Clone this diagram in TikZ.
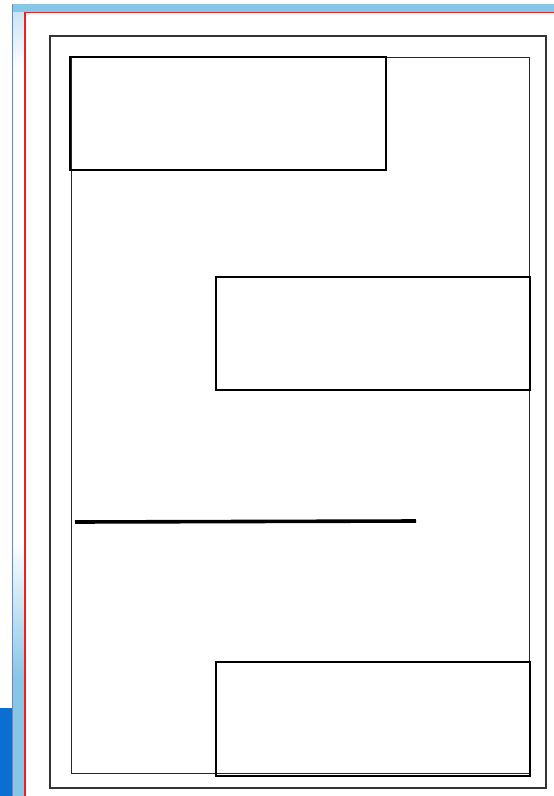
\documentclass[tikz,border=0pt]{standalone}
\usepackage{tikz}
\definecolor{winblue}{HTML}{0A6FD0}
\definecolor{barblue}{HTML}{86C6E6}
\definecolor{edgeblue}{HTML}{6A88B8}
\definecolor{pagered}{HTML}{F02020}
\tikzset{
  frame/.style={draw=black!80,line width=1.2pt},
  inframe/.style={draw=black!85,line width=1pt},
  panel/.style={draw=black,line width=2.4pt},
  rulebar/.style={draw=black,line width=3.6pt}
}

\begin{document}
\begin{tikzpicture}[x=1pt,y=-1pt]
\useasboundingbox (0,0) rectangle (554,796);
\fill[white] (0,0) rectangle (554,796);
% window chrome
\fill[barblue] (12,4) rectangle (554,12);
\shade[top color=barblue!45,bottom color=white] (13,12) rectangle (25,70);
\shade[top color=white,bottom color=barblue] (13,540) rectangle (25,680);
\fill[barblue] (13,680) rectangle (25,796);
\fill[winblue] (0,708) rectangle (11.5,796);
\draw[edgeblue,line width=1.6pt] (12.3,4) -- (12.3,796);
\draw[pagered,line width=1.4pt] (25,796) -- (25,12.5) -- (554,12.5);
% page frames
\draw[frame] (50,36) rectangle (546,788);
\draw[inframe] (71,57) rectangle (529,773);
% panels
\draw[panel] (70,57) rectangle (386,170);
\draw[panel] (216,277) rectangle (530,390);
\draw[panel] (216,662) rectangle (530,776);
\draw[rulebar] (75,522) -- (416,521);

\end{tikzpicture}
\end{document}
